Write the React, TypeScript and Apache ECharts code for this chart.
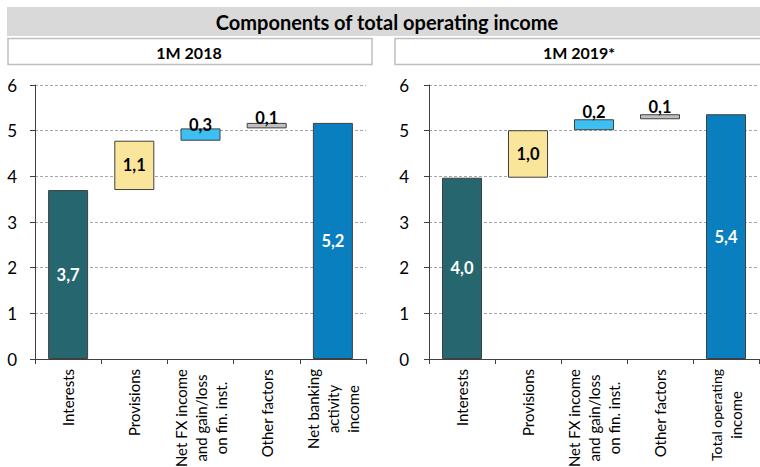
import React, { useEffect, useRef } from "react";
import * as echarts from "echarts";

const TITLE = "Components of total operating income";
const PANEL_TITLES = ["1M 2018", "1M 2019*"];
const CATEGORIES_2018 = [
  "Interests",
  "Provisions",
  "Net FX income\nand gain/loss\non fin. inst.",
  "Other factors",
  "Net banking\nactivity\nincome",
];
const CATEGORIES_2019 = [
  "Interests",
  "Provisions",
  "Net FX income\nand gain/loss\non fin. inst.",
  "Other factors",
  "Total operating\nincome",
];
const VALUES_2018 = [3.7, 1.08, 0.27, 0.12, 5.17];
const VALUES_2019 = [3.97, 1.04, 0.24, 0.11, 5.36];
const Y_MIN = 0;
const Y_MAX = 6;
const Y_STEP = 1;
const COLORS = ["#25666f", "#f9e69b", "#3dbff3", "#bfbfbf", "#0a7fbf"];
const LABEL_COLORS = ["#ffffff", "#000000", "#000000", "#000000", "#ffffff"];

const FONT = "Lato, 'Open Sans', sans-serif";

function fmt(v: number) {
  return v.toFixed(1).replace(".", ",");
}

function bases(values: number[]) {
  const out: number[] = [];
  let acc = 0;
  values.forEach((v, i) => {
    if (i === 0 || i === values.length - 1) {
      out.push(0);
      if (i === 0) acc = v;
    } else {
      out.push(acc);
      acc += v;
    }
  });
  return out;
}

function seriesFor(values: number[], idx: number, topDist: number[]) {
  const b = bases(values);
  return [
    {
      type: "bar",
      stack: "w" + idx,
      xAxisIndex: idx,
      yAxisIndex: idx,
      barWidth: 40,
      silent: true,
      itemStyle: { color: "transparent", borderWidth: 0 },
      data: b,
    },
    {
      type: "bar",
      stack: "w" + idx,
      xAxisIndex: idx,
      yAxisIndex: idx,
      barWidth: 40,
      itemStyle: { borderColor: "#404040", borderWidth: 1 },
      data: values.map((v, k) => {
        const small = k === 2 || k === 3;
        return {
          value: v,
          itemStyle: { color: COLORS[k] },
          label: {
            show: true,
            position: small ? "top" : "inside",
            distance: small ? topDist[k] : 5,
            color: LABEL_COLORS[k],
            fontWeight: "bold",
            fontSize: 16.5,
            fontFamily: FONT,
            formatter: () => fmt(v),
          },
        };
      }),
    },
  ];
}

export default function App() {
  const ref = useRef<HTMLDivElement>(null);
  useEffect(() => {
    if (!ref.current) return;
    const chart = echarts.init(ref.current, undefined, { renderer: "svg" });
    const yAxis = (i: number, margin: number) => ({
      type: "value",
      gridIndex: i,
      min: Y_MIN,
      max: Y_MAX,
      interval: Y_STEP,
      axisLine: { show: true, lineStyle: { color: "#404040", width: 1 } },
      axisTick: { show: true, length: 5, lineStyle: { color: "#404040" } },
      splitLine: { show: true, lineStyle: { color: "#a6a6a6", type: [3, 2], width: 1 } },
      axisLabel: { color: "#000", fontSize: 17, fontFamily: FONT, margin },
    });
    const xAxis = (i: number, cats: string[]) => ({
      type: "category",
      gridIndex: i,
      data: cats,
      axisLine: { show: true, lineStyle: { color: "#404040", width: 1 } },
      axisTick: { show: true, length: 5, interval: 0, lineStyle: { color: "#404040" } },
      axisLabel: {
        interval: 0,
        rotate: 90,
        color: "#000",
        fontSize: 15,
        lineHeight: 20,
        fontFamily: FONT,
        margin: 10,
        hideOverlap: false,
        formatter: (s: string) =>
          s
            .split("\n")
            .map((line) => (line.length > 14 ? `{d|${line}}` : `{c|${line}}`))
            .join("\n"),
        rich: {
          c: { align: "center", fontSize: 15, lineHeight: 20, fontFamily: FONT, color: "#000" },
          d: { align: "center", fontSize: 14, lineHeight: 20, fontFamily: FONT, color: "#000" },
        },
      },
    });
    chart.setOption({
      animation: false,
      backgroundColor: "#ffffff",
      textStyle: { fontFamily: FONT },
      grid: [
        { left: 35, top: 85, width: 331, height: 274, containLabel: false, outerBoundsMode: "none" },
        { left: 429, top: 85, width: 330, height: 274, containLabel: false, outerBoundsMode: "none" },
      ],
      xAxis: [xAxis(0, CATEGORIES_2018), xAxis(1, CATEGORIES_2019)],
      yAxis: [yAxis(0, 18), yAxis(1, 20)],
      series: [
        ...seriesFor(VALUES_2018, 0, [0, 0, -5, -4, 0]),
        ...seriesFor(VALUES_2019, 1, [0, 0, -1, -1, 0]),
      ],
      graphic: [
        { type: "rect", shape: { x: 7, y: 7, width: 753, height: 29 }, style: { fill: "#d9d9d9" }, silent: true },
        {
          type: "text",
          x: 387,
          y: 22,
          style: { text: TITLE, align: "center", verticalAlign: "middle", font: `bold 20px ${FONT}`, fill: "#000" },
        },
        {
          type: "rect",
          shape: { x: 8, y: 38.5, width: 364, height: 26 },
          style: { fill: "#fff", stroke: "#bfbfbf", lineWidth: 1.5 },
          silent: true,
        },
        {
          type: "text",
          x: 189,
          y: 52,
          style: { text: PANEL_TITLES[0], align: "center", verticalAlign: "middle", font: `bold 16px ${FONT}`, fill: "#000" },
        },
        {
          type: "rect",
          shape: { x: 395, y: 38.5, width: 370, height: 26 },
          style: { fill: "#fff", stroke: "#bfbfbf", lineWidth: 1.5 },
          silent: true,
        },
        {
          type: "text",
          x: 579,
          y: 52,
          style: { text: PANEL_TITLES[1], align: "center", verticalAlign: "middle", font: `bold 16px ${FONT}`, fill: "#000" },
        },
      ],
    });
    return () => chart.dispose();
  }, []);
  return (
    <div
      ref={ref}
      style={{ position: "fixed", left: 0, top: 0, width: 760, height: 467, background: "#fff" }}
    />
  );
}
